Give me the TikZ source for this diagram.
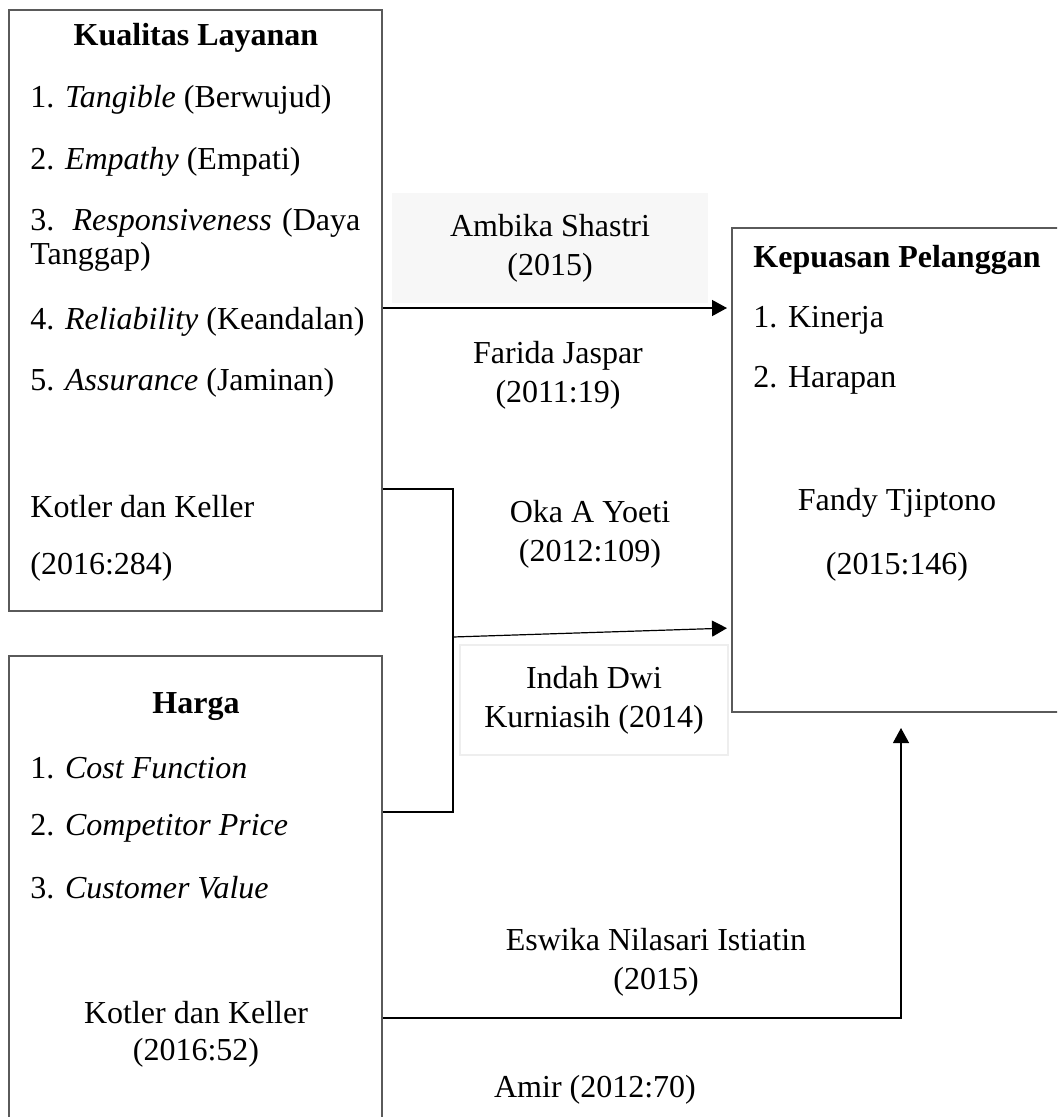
\documentclass[tikz,border=0pt]{standalone}
\usepackage{fontspec}
\setmainfont{Liberation Serif}
\usetikzlibrary{arrows.meta,positioning}
\definecolor{boxgray}{HTML}{5A5A5A}
\definecolor{shade}{HTML}{F7F7F7}
\definecolor{faint}{HTML}{EEEEEE}
\tikzset{
  varbox/.style={draw=boxgray, line width=1pt, inner sep=0pt},
  txt/.style={inner sep=0pt, font=\fontsize{16}{17}\selectfont},
  item/.style={txt, anchor=west},
  head/.style={txt, font=\fontsize{16}{17}\selectfont\bfseries},
  cite/.style={inner sep=0pt, align=center, font=\fontsize{16}{19.5}\selectfont},
  link/.style={draw=black, line width=0.6pt},
  arr/.style={link, -{Triangle[length=7.5pt,width=8pt]}}
}
\begin{document}
\begin{tikzpicture}[x=0.5pt,y=-0.5pt]
\useasboundingbox (0,0) rectangle (1057,1117);
\clip (0,0) rectangle (1057,1117);
\fill[white] (0,0) rectangle (1057,1117);
% variable boxes
\node[varbox, minimum width=186.5pt, minimum height=300.5pt] (kual) at (195.5,310.5) {};
\node[varbox, minimum width=186.5pt, minimum height=237pt] (harga) at (195.5,893) {};
\node[varbox, minimum width=174pt, minimum height=242pt] (kep) at (906,470) {};
% Kualitas Layanan
\node[head] (kualT) at (196,38) {Kualitas Layanan};
\node[item] (k1) at (30,100) {1. \textit{Tangible} (Berwujud)};
\node[item] (k2) at (30,162) {2. \textit{Empathy} (Empati)};
\node[item] (k3) at (30,223) {\makebox[165pt][s]{3. \textit{Responsiveness} (Daya}};
\node[item] (k3b) at (30,257) {Tanggap)};
\node[item] (k4) at (30,322) {4. \textit{Reliability} (Keandalan)};
\node[item] (k5) at (30,383) {5. \textit{Assurance} (Jaminan)};
\node[item] (kualS) at (30,507) {Kotler dan Keller};
\node[item] (kualY) at (30,567) {(2016:284)};
% Harga
\node[head] (hargaT) at (196,707) {Harga};
\node[item] (h1) at (30,768) {1. \textit{Cost Function}};
\node[item] (h2) at (30,828) {2. \textit{Competitor Price}};
\node[item] (h3) at (30,888) {3. \textit{Customer Value}};
\node[txt] (hargaS) at (196,1013) {Kotler dan Keller};
\node[txt] (hargaY) at (196,1053) {(2016:52)};
% Kepuasan Pelanggan
\node[head, anchor=west] (kepT) at (753,260) {Kepuasan Pelanggan};
\node[item] (p1) at (753,320) {1. Kinerja};
\node[item] (p2) at (753,380) {2. Harapan};
\node[txt] (kepS) at (897,503) {Fandy Tjiptono};
\node[txt] (kepY) at (897,567) {(2015:146)};
% sources on the links
\node[cite, fill=shade, minimum width=158pt, minimum height=55pt] (ambika) at (550,248) {Ambika Shastri\\(2015)};
\node[cite] (farida) at (558,375) {Farida Jaspar\\(2011:19)};
\node[cite] (oka) at (590,534) {Oka A Yoeti\\(2012:109)};
\node[cite, draw=faint, line width=0.6pt, minimum width=134pt, minimum height=55pt] (indah) at (594,700) {Indah Dwi\\Kurniasih (2014)};
\node[cite] (eswika) at (656,962) {Eswika Nilasari Istiatin\\(2015)};
\node[txt] (amir) at (595,1090) {Amir (2012:70)};
% connectors
\coordinate (r1) at (0,308);
\coordinate (bk) at (453,489);
\coordinate (bkb) at (453,812);
\coordinate (j) at (453,637);
\coordinate (r3) at (0,628);
\coordinate (r4) at (901,1018);
\draw[arr, shorten >=2pt] (kual.east |- r1) -- (kep.west |- r1);
\draw[link] (kual.east |- bk) -- (bk) -- (bkb) -- (harga.east |- bkb);
\draw[arr, shorten >=2pt] (j) -- (kep.west |- r3);
\draw[arr, shorten >=7.5pt] (harga.east |- r4) -- (r4) -- (r4 |- kep.south);
\end{tikzpicture}
\end{document}
